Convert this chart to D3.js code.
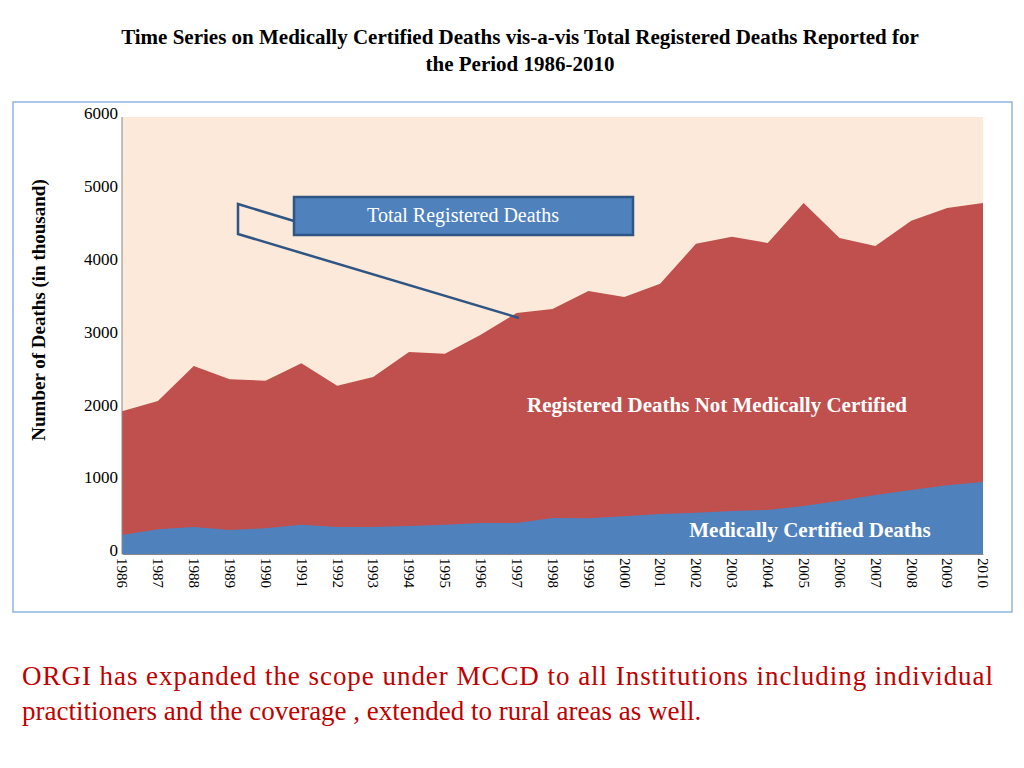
<!DOCTYPE html>
<html><head><meta charset="utf-8">
<script src="https://cdn.jsdelivr.net/npm/d3@7"></script>
<style>body{margin:0;background:#fff}</style></head>
<body><svg id="c" width="1024" height="768"></svg>
<script>
const years = [1986,1987,1988,1989,1990,1991,1992,1993,1994,1995,1996,1997,1998,1999,2000,2001,2002,2003,2004,2005,2006,2007,2008,2009,2010];
const totalDeaths = [1960,2100,2580,2400,2380,2620,2310,2430,2775,2750,3010,3310,3365,3610,3530,3710,4260,4355,4270,4820,4340,4230,4575,4750,4820];
const medicalDeaths = [260,340,370,330,355,400,370,370,385,400,425,425,495,490,520,550,565,590,605,660,730,810,880,945,990];
const yTicks = [0,1000,2000,3000,4000,5000,6000];

const svg = d3.select("#c");
const F = "'Liberation Serif', 'DejaVu Serif', serif";
svg.append("text").attr("x",520).attr("y",44).attr("text-anchor","middle").attr("font-family",F).attr("font-weight","bold").attr("font-size",21).text("Time Series on Medically Certified Deaths vis-a-vis Total Registered Deaths  Reported for");
svg.append("text").attr("x",520).attr("y",71).attr("text-anchor","middle").attr("font-family",F).attr("font-weight","bold").attr("font-size",21).text("the  Period 1986-2010");
svg.append("rect").attr("x",13).attr("y",102).attr("width",999).attr("height",510).attr("fill","#fff").attr("stroke","#8EB4E3").attr("stroke-width",1.5);

const x = d3.scaleLinear().domain([1986,2010]).range([122,983]);
const y = d3.scaleLinear().domain([0,6000]).range([554,117]);
svg.append("rect").attr("x",122).attr("y",117).attr("width",861).attr("height",437).attr("fill","#FDE9D9");
const area = (top,bot) => d3.area().x((d,i)=>x(years[i])).y0((d,i)=>y(bot?bot[i]:0)).y1((d,i)=>y(top[i]));
svg.append("path").datum(totalDeaths).attr("d",area(totalDeaths)).attr("fill","#C0504D");
svg.append("path").datum(medicalDeaths).attr("d",area(medicalDeaths)).attr("fill","#4F81BD");

svg.append("line").attr("x1",122).attr("x2",122).attr("y1",117).attr("y2",554).attr("stroke","#888");
const ya = svg.append("g").attr("transform","translate(122,0)").call(d3.axisLeft(y).tickValues(yTicks).tickSize(0).tickFormat(d3.format("d")));
ya.select(".domain").remove();
ya.selectAll("text").attr("font-family",F).attr("font-size",17).attr("fill","#000").attr("dx",-1).attr("dy","0.1em");
const xa = svg.append("g").attr("transform","translate(0,554)").call(d3.axisBottom(x).tickValues(years).tickSize(0).tickFormat(d3.format("d")));
xa.select(".domain").attr("stroke","#888");
xa.selectAll("text").attr("font-family",F).attr("font-size",15).attr("fill","#000")
  .attr("transform","rotate(90)").attr("text-anchor","start").attr("x",4).attr("y",0).attr("dy","0.35em");

svg.append("text").attr("transform","translate(45,310) rotate(-90)").attr("text-anchor","middle").attr("font-family",F).attr("font-weight","bold").attr("font-size",19).text("Number of Deaths (in thousand)");

svg.append("polyline").attr("points","294,221 238,204 238,234 519,318").attr("fill","none").attr("stroke","#2E5584").attr("stroke-width",2.5);
svg.append("rect").attr("x",294).attr("y",197).attr("width",339).attr("height",38).attr("fill","#4F81BD").attr("stroke","#2E5584").attr("stroke-width",2.5);
svg.append("text").attr("x",463).attr("y",222).attr("text-anchor","middle").attr("font-family",F).attr("font-size",20).attr("fill","#fff").text("Total Registered Deaths");

svg.append("text").attr("x",717).attr("y",412).attr("text-anchor","middle").attr("font-family",F).attr("font-weight","bold").attr("font-size",21).attr("fill","#fff").text("Registered Deaths Not Medically Certified");
svg.append("text").attr("x",810).attr("y",537).attr("text-anchor","middle").attr("font-family",F).attr("font-weight","bold").attr("font-size",21).attr("fill","#fff").text("Medically Certified Deaths");

svg.append("text").attr("x",22).attr("y",685).attr("font-family",F).attr("font-size",27).attr("fill","#C00000").attr("textLength",971).attr("lengthAdjust","spacing").text("ORGI has expanded the scope under MCCD to all Institutions including individual");
svg.append("text").attr("x",22).attr("y",720).attr("font-family",F).attr("font-size",27).attr("fill","#C00000").text("practitioners and the coverage , extended to rural areas as well.");
</script></body></html>
